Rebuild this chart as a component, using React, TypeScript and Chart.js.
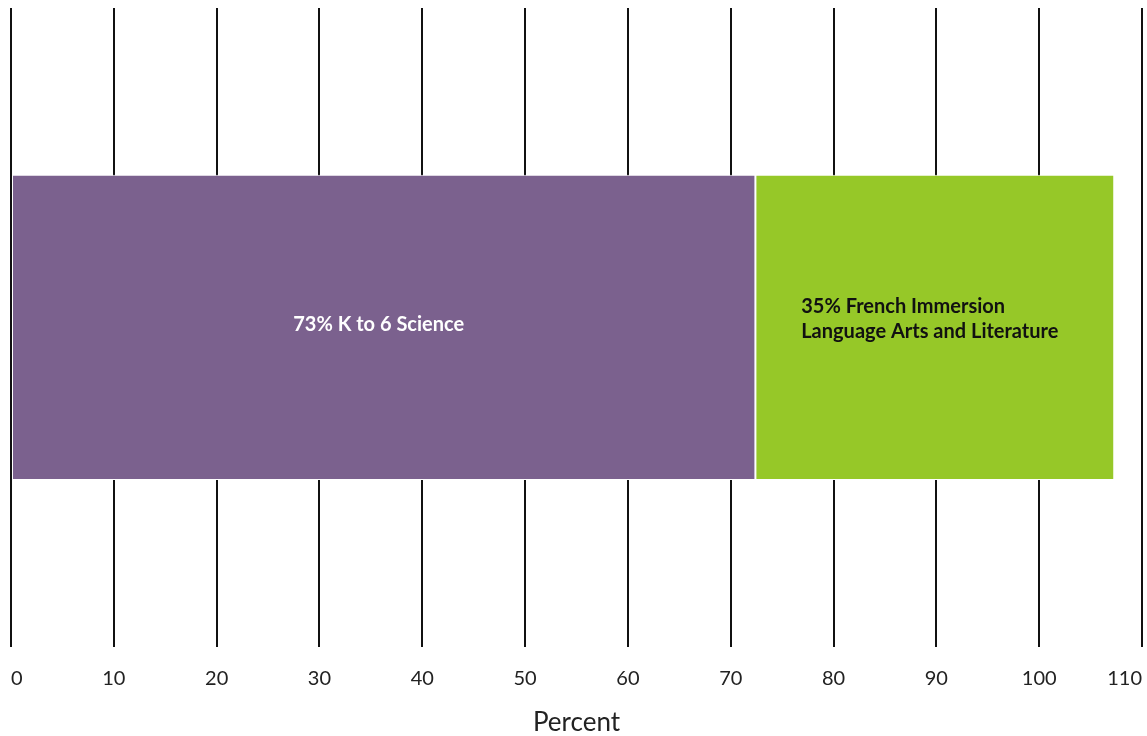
import React, { useEffect, useRef } from "react";
import { Chart, registerables } from "chart.js";

Chart.register(...registerables);

const categories = ["Programs"];
const seriesNames = ["K to 6 Science", "French Immersion Language Arts and Literature"];
const scienceValues = [72.4];
const frenchValues = [34.9];
const segmentLabels = [
  ["73% K to 6 Science"],
  ["35% French Immersion", "Language Arts and Literature"],
];
const xTickValues = [0, 10, 20, 30, 40, 50, 60, 70, 80, 90, 100, 110];

const barLabelPlugin = {
  id: "barLabels",
  afterDatasetsDraw(chart: any) {
    const ctx = chart.ctx;
    const colors = ["#ffffff", "#111111"];
    chart.data.datasets.forEach((ds: any, di: number) => {
      const meta = chart.getDatasetMeta(di);
      meta.data.forEach((el: any) => {
        const lines = segmentLabels[di];
        const left = Math.min(el.base, el.x);
        const right = Math.max(el.base, el.x);
        const cx = (left + right) / 2 - 5;
        const cy = el.y;
        ctx.save();
        ctx.font = "bold 20px Lato";
        ctx.fillStyle = colors[di];
        ctx.textBaseline = "alphabetic";
        const lh = 25;
        const widths = lines.map((l: string) => ctx.measureText(l).width);
        const maxW = Math.max(...widths);
        const startY = cy + 4 - ((lines.length - 1) * lh) / 2 - (lines.length > 1 ? 6 : 0);
        lines.forEach((l: string, i: number) => {
          if (lines.length > 1) {
            ctx.textAlign = "left";
            ctx.fillText(l, cx - maxW / 2, startY + i * lh);
          } else {
            ctx.textAlign = "center";
            ctx.fillText(l, cx, startY + i * lh);
          }
        });
        ctx.restore();
      });
    });
  },
};

export default function App() {
  const canvasRef = useRef<HTMLCanvasElement | null>(null);

  useEffect(() => {
    document.body.style.margin = "0";
    const canvas = canvasRef.current;
    if (!canvas) return;
    const chart = new Chart(canvas, {
      type: "bar",
      data: {
        labels: categories,
        datasets: [
          {
            label: seriesNames[0],
            data: scienceValues,
            backgroundColor: "#7b618e",
            borderColor: "#ffffff",
            borderWidth: 1,
            borderSkipped: false,
            barPercentage: 0.478,
            categoryPercentage: 1,
          },
          {
            label: seriesNames[1],
            data: frenchValues,
            backgroundColor: "#96c828",
            borderColor: "#ffffff",
            borderWidth: 1,
            borderSkipped: false,
            barPercentage: 0.478,
            categoryPercentage: 1,
          },
        ],
      },
      options: {
        indexAxis: "y",
        animation: false,
        responsive: false,
        maintainAspectRatio: false,
        layout: { padding: { left: 11, right: 5, top: 8, bottom: 0 } },
        plugins: {
          legend: { display: false },
          tooltip: { enabled: false },
          title: { display: false },
        },
        scales: {
          x: {
            stacked: true,
            min: 0,
            max: 110,
            afterBuildTicks: (scale: any) => {
              scale.ticks = xTickValues.map((v) => ({ value: v }));
            },
            afterFit: (scale: any) => {
              scale.paddingLeft = 0;
              scale.paddingRight = 0;
            },
            grid: {
              color: "#111111",
              lineWidth: 2,
              drawTicks: false,
            },
            border: { display: false },
            ticks: {
              align: "inner",
              padding: 20,
              color: "#222222",
              font: { family: "Lato", size: 20 },
              maxRotation: 0,
              autoSkip: false,
            },
            title: {
              display: true,
              text: "Percent",
              color: "#222222",
              font: { family: "Lato", size: 26 },
              padding: { top: -4, bottom: -2 },
            },
          },
          y: {
            stacked: true,
            display: false,
          },
        },
      },
      plugins: [barLabelPlugin],
    } as any);
    return () => chart.destroy();
  }, []);

  return (
    <div style={{ position: "absolute", left: 0, top: 0, width: 1147, height: 736 }}>
      <canvas ref={canvasRef} width={1147} height={736} style={{ width: 1147, height: 736 }} />
    </div>
  );
}
